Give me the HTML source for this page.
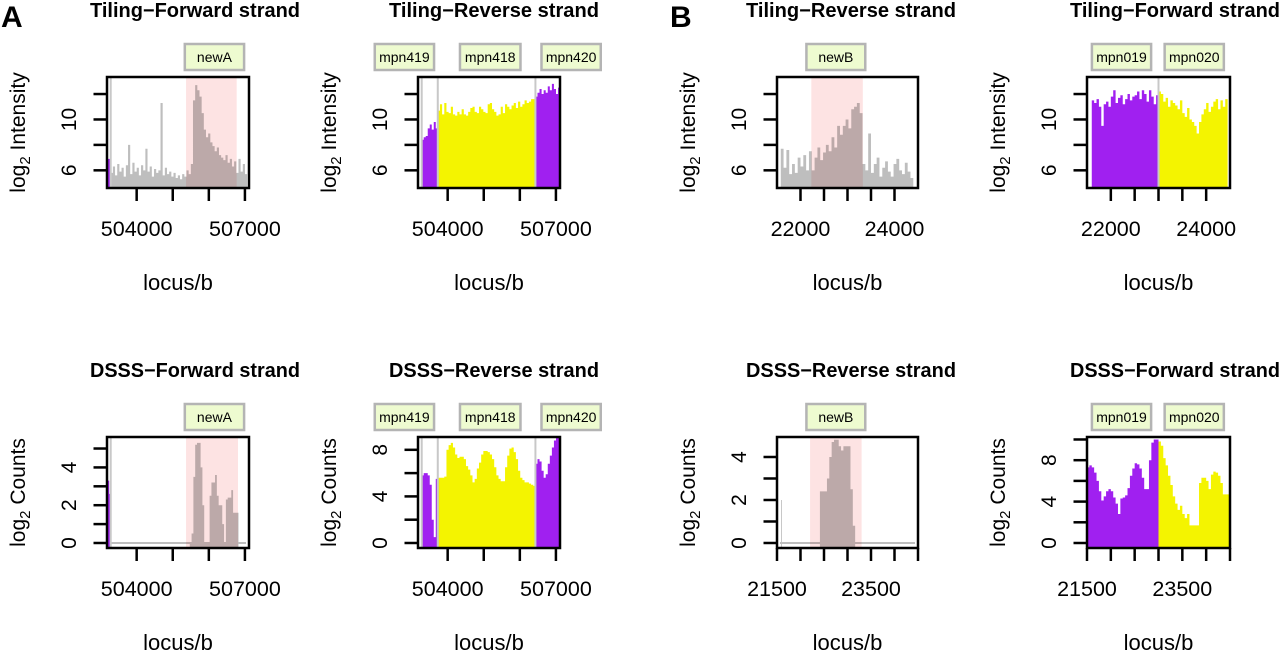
<!DOCTYPE html>
<html><head><meta charset="utf-8">
<style>
html,body{margin:0;padding:0;background:#fff;}
svg{display:block;font-family:"Liberation Sans",Arial,sans-serif;}
</style></head>
<body>
<svg id="fig" width="1280" height="654" viewBox="0 0 1280 654" xmlns="http://www.w3.org/2000/svg">
<text x="1" y="27" font-size="30" font-weight="bold">A</text>
<text x="670" y="27" font-size="30" font-weight="bold">B</text>
</svg>
<script>
// ---------- data arrays ----------
const a1PurpleValues = [6.9];
const a1GrayValues = [5.8,6.3,5.6,6.5,5.9,6.2,5.5,6.4,8.0,5.7,6.6,5.9,6.2,5.6,6.4,6.0,7.7,5.9,6.3,5.5,6.1,5.8,6.0,11.3,5.6,6.2,5.7,5.9,5.5,5.8,5.4,5.6,5.3,5.7,5.5,6.0,5.7,6.5,11.5,12.7,12.3,11.8,10.5,9.2,8.6,8.9,8.2,7.9,7.5,7.8,7.2,7.0,6.8,7.2,6.6,6.9,6.3,6.7,5.8,6.9,5.9,6.5,5.7];
const a2Purple1Values = [8.4,8.6,8.7,9.3,9.6,9.2,9.8,9.3];
const a2YellowValues = [10.7,11.2,10.4,11.3,10.6,10.5,11.0,10.4,10.3,10.6,10.4,10.8,10.4,10.3,10.6,10.9,11.0,10.6,10.5,11.0,10.8,10.6,10.5,11.2,11.3,10.8,10.6,10.3,10.4,11.0,10.5,11.2,11.0,10.8,11.1,11.3,10.9,11.4,11.0,11.2,11.5,11.3,11.4,11.6,11.6];
const a2Purple2Values = [11.8,12.1,12.4,12.0,12.3,12.1,12.6,12.3,12.8,12.4,12.0,12.5];
const a3PurpleValues = [3.3,2.6];
const a3GrayValues = [0,0.5,3.5,5.2,5.3,5.3,4.0,2.0,0,0,0,2.5,3.2,3.2,3.6,2.5,2.0,2.0,1.0,0,2.3,2.4,2.4,2.8,1.6,1.6,1.6];
const a4Purple1Values = [5.8,6.0,6.0,5.8,5.0,2.0,0.5,5.5];
const a4YellowValues = [5.6,5.6,5.6,5.7,8.0,8.4,8.6,8.2,7.6,7.3,7.4,7.4,7.2,6.6,6.3,5.8,5.2,5.5,6.4,6.9,7.6,7.9,7.9,7.8,7.6,7.2,6.5,5.8,5.5,5.3,5.3,6.5,7.5,8.1,8.2,7.8,7.2,6.2,5.6,5.4,5.2,5.2,5.1,5.0,4.9];
const a4Purple2Values = [6.8,7.2,7.0,6.2,5.6,5.9,6.8,7.5,8.2,8.8,9.1,9.2];
const b1GrayValues = [7.7,6.2,7.6,5.7,6.5,5.8,7.0,6.3,7.2,6.0,7.5,6.0,7.0,7.8,6.8,7.4,8.0,7.5,8.6,7.8,9.5,8.8,9.5,10.0,9.3,10.8,11.0,11.3,10.5,6.5,6.0,8.9,5.8,6.5,7.0,5.5,6.2,6.7,5.9,5.5,6.5,6.9,6.0,5.7,6.6,5.9,5.4];
const b2PurpleValues = [11.5,11.3,11.6,11.0,9.5,11.2,11.4,11.0,11.8,12.3,11.3,11.7,11.9,11.2,11.6,12.0,11.5,11.8,11.9,12.2,11.6,12.3,12.0,11.4,12.3,11.8,11.2,11.9];
const b2YellowValues = [12.2,12.0,11.4,11.7,11.0,11.5,11.3,11.1,10.8,11.5,10.5,10.2,10.9,10.0,9.8,9.5,8.9,9.8,10.4,10.8,11.3,10.6,11.0,11.4,11.6,10.8,11.5,11.0,11.6];
const b3SpikeValues = [2.0];
const b3GrayValues = [2.4,2.4,2.4,3.0,4.0,4.7,4.8,4.8,4.5,4.3,4.5,4.5,4.5,2.5,0.8];
const b4PurpleValues = [7.3,7.5,7.3,6.8,6.0,5.0,4.1,4.5,5.0,5.2,5.0,4.4,3.8,2.8,4.3,4.4,4.6,5.3,6.5,7.2,7.7,7.6,7.2,6.3,5.2,5.2,8.0,9.7,10.0,10.0];
const b4YellowValues = [9.8,9.4,8.2,7.5,6.5,5.6,4.5,3.8,3.2,3.6,2.8,2.4,2.8,1.7,1.7,1.7,1.7,5.8,6.3,6.3,6.0,5.2,6.6,6.9,6.8,6.5,5.8,4.7,4.7,4.7];
const aXTicks = [504000,505000,506000,507000];
const aXTickLabels = ["504000","507000"];
const bXTicksTop = [22000,22500,23000,23500,24000];
const bXTickLabelsTop = ["22000","24000"];
const bXTicksBottom = [21500,22000,22500,23000,23500,24000,24500];
const bXTickLabelsBottom = ["21500","23500"];
const intensityTicks = [6,8,10,12];
const intensityTickLabels = ["6","10"];
const a3YTicks = [0,1,2,3,4,5]; const a3YTickLabels = ["0","2","4"];
const a4YTicks = [0,2,4,6,8]; const a4YTickLabels = ["0","4","8"];
const b3YTicks = [0,1,2,3,4]; const b3YTickLabels = ["0","2","4"];
const b4YTicks = [0,2,4,6,8,10]; const b4YTickLabels = ["0","4","8"];

const PURPLE="#a020f0", YELLOW="#f4f400", GRAY="#bebebe";

const panels = [
 {id:"a-tiling-forward", title:"Tiling\u2212Forward strand", tx:90, L:107,R:249,T:77,B:188, xmin:503178,xmax:507113, ymin:4.61,ymax:13.34,
  xt:aXTicks, xl:aXTickLabels, yt:intensityTicks, yl:intensityTickLabels, ytitle:"Intensity",
  genes:[["newA",505334,506977]], shade:[505368,506771], vlines:[503281],
  series:[[PURPLE,503178,103,a1PurpleValues],[GRAY,503281,60,a1GrayValues]]},
 {id:"a-tiling-reverse", title:"Tiling\u2212Reverse strand", tx:389, L:418,R:560,T:77,B:188, xmin:503178,xmax:507113, ymin:4.61,ymax:13.34,
  xt:aXTicks, xl:aXTickLabels, yt:intensityTicks, yl:intensityTickLabels, ytitle:"Intensity",
  genes:[["mpn419",501980,503623],["mpn418",504341,506018],["mpn420",506600,508242]], vlines:[503281,503726,506432],
  series:[[PURPLE,503281,55.6,a2Purple1Values],[YELLOW,503726,60.13,a2YellowValues],[PURPLE,506432,57,a2Purple2Values]]},
 {id:"b-tiling-reverse", title:"Tiling\u2212Reverse strand", tx:746, L:777,R:918,T:77,B:188, xmin:21500,xmax:24500, ymin:4.61,ymax:13.34,
  xt:bXTicksTop, xl:bXTickLabelsTop, yt:intensityTicks, yl:intensityTickLabels, ytitle:"Intensity",
  genes:[["newB",22126,23378]], shade:[22230,23326], vlines:[],
  series:[[GRAY,21580,60,b1GrayValues]]},
 {id:"b-tiling-forward", title:"Tiling\u2212Forward strand", tx:1070, L:1087,R:1230,T:77,B:188, xmin:21500,xmax:24500, ymin:4.61,ymax:13.34,
  xt:bXTicksTop, xl:bXTickLabelsTop, yt:intensityTicks, yl:intensityTickLabels, ytitle:"Intensity",
  genes:[["mpn019",21603,22845],["mpn020",23129,24371]], vlines:[23000],
  series:[[PURPLE,21600,50,b2PurpleValues],[YELLOW,23000,50,b2YellowValues]]},
 {id:"a-dsss-forward", title:"DSSS\u2212Forward strand", tx:90, L:107,R:249,T:437,B:548, xmin:503178,xmax:507113, ymin:-0.265,ymax:5.61,
  xt:aXTicks, xl:aXTickLabels, yt:a3YTicks, yl:a3YTickLabels, ytitle:"Counts", base0:true,
  genes:[["newA",505334,506977]], shade:[505368,506808], vlines:[503281],
  series:[[PURPLE,503178,60,a3PurpleValues],[GRAY,505472,50,a3GrayValues]]},
 {id:"a-dsss-reverse", title:"DSSS\u2212Reverse strand", tx:389, L:418,R:560,T:437,B:548, xmin:503178,xmax:507113, ymin:-0.43,ymax:9.1,
  xt:aXTicks, xl:aXTickLabels, yt:a4YTicks, yl:a4YTickLabels, ytitle:"Counts",
  genes:[["mpn419",501980,503623],["mpn418",504341,506018],["mpn420",506600,508242]], vlines:[503281,503726,506432],
  series:[[PURPLE,503281,55.6,a4Purple1Values],[YELLOW,503726,60.13,a4YellowValues],[PURPLE,506432,57,a4Purple2Values]]},
 {id:"b-dsss-reverse", title:"DSSS\u2212Reverse strand", tx:746, L:777,R:918,T:437,B:548, xmin:21500,xmax:24500, ymin:-0.233,ymax:4.93,
  xt:bXTicksBottom, xl:bXTickLabelsBottom, yt:b3YTicks, yl:b3YTickLabels, ytitle:"Counts", base0:true,
  genes:[["newB",22126,23378]], shade:[22204,23300], vlines:[],
  series:[[GRAY,21585,18,b3SpikeValues],[GRAY,22413,50,b3GrayValues]]},
 {id:"b-dsss-forward", title:"DSSS\u2212Forward strand", tx:1070, L:1087,R:1230,T:437,B:548, xmin:21500,xmax:24500, ymin:-0.483,ymax:10.24,
  xt:bXTicksBottom, xl:bXTickLabelsBottom, yt:b4YTicks, yl:b4YTickLabels, ytitle:"Counts",
  genes:[["mpn019",21603,22845],["mpn020",23129,24371]], vlines:[],
  series:[[PURPLE,21500,50,b4PurpleValues],[YELLOW,23000,50,b4YellowValues]]}
];

const NS="http://www.w3.org/2000/svg";
const svg=document.getElementById("fig");
function mk(tag,attrs,parent){const e=document.createElementNS(NS,tag);for(const k in attrs)e.setAttribute(k,attrs[k]);(parent||svg).appendChild(e);return e;}

panels.forEach((p,pi)=>{
  const sx=x=>p.L+(x-p.xmin)/(p.xmax-p.xmin)*(p.R-p.L);
  const sy=y=>p.B-(y-p.ymin)/(p.ymax-p.ymin)*(p.B-p.T);
  const g=mk("g",{});
  
  
  const clipId="clip"+pi;
  const cp=mk("clipPath",{id:clipId},g); mk("rect",{x:p.L,y:p.T,width:p.R-p.L,height:p.B-p.T},cp);
  const plot=mk("g",{"clip-path":"url(#"+clipId+")"},g);
  
  
  if(p.base0){
    const bl=mk("line",{x1:sx(p.xmin)+3,x2:p.R-3,y1:sy(0),y2:sy(0),stroke:GRAY,"stroke-width":2},plot);
    
    
  }
  p.series.forEach((s,si)=>{
    const [col,x0,step,vals]=s;
    let d="M"+sx(x0)+","+(p.B+2);
    vals.forEach((v,i)=>{const xa=sx(x0+i*step), xb=sx(x0+(i+1)*step), y=sy(v); d+=" L"+xa+","+y+" L"+xb+","+y;});
    d+=" L"+sx(x0+vals.length*step)+","+(p.B+2)+" Z";
    const path=mk("path",{d:d,fill:col,stroke:"none"},plot);
    
    
  });
  if(p.shade){
    const r2=mk("rect",{x:sx(p.shade[0]),y:p.T,width:sx(p.shade[1])-sx(p.shade[0]),height:p.B-p.T,fill:"#fde3e3",style:"mix-blend-mode:multiply"},plot);
    
    
  }
  p.vlines.forEach(v=>{
    const l=mk("line",{x1:sx(v),x2:sx(v),y1:p.T,y2:p.B,stroke:"#c8c8c8","stroke-width":2},plot);
    
    
  });
  const box=mk("rect",{x:p.L,y:p.T,width:p.R-p.L,height:p.B-p.T,fill:"none",stroke:"#000","stroke-width":2.5},g);
  
  
  p.genes.forEach(gn=>{
    const gx0=sx(gn[1]), gx1=sx(gn[2]);
    const gg=mk("g",{},g);
    
    
    mk("rect",{x:gx0,y:p.T-33,width:gx1-gx0,height:26,fill:"#eefbd0",stroke:"#b4b4b4","stroke-width":2.5},gg);
    const t=mk("text",{x:(gx0+gx1)/2,y:p.T-15,"text-anchor":"middle","font-size":14},gg);
    t.textContent=gn[0];
  });
  const tt=mk("text",{x:p.tx,y:(p.T<200?17:377),"font-size":20,"font-weight":"bold",textLength:210,lengthAdjust:"spacingAndGlyphs"},g);
  tt.textContent=p.title;
  
  
  p.xt.forEach(v=>{
    const tk=mk("line",{x1:sx(v),x2:sx(v),y1:p.B,y2:p.B+13,stroke:"#000","stroke-width":2.5},g);
    
    
  });
  p.xl.forEach(lbl=>{
    const t=mk("text",{x:sx(+lbl),y:p.B+48,"text-anchor":"middle","font-size":21.5},g);
    t.textContent=lbl;
    
    
  });
  const xt=mk("text",{x:(p.L+p.R)/2,y:p.B+102,"text-anchor":"middle","font-size":22},g);
  xt.textContent="locus/b";
  
  
  p.yt.forEach(v=>{
    const tk=mk("line",{x1:p.L-13.5,x2:p.L,y1:sy(v),y2:sy(v),stroke:"#000","stroke-width":2.5},g);
    
    
  });
  p.yl.forEach(lbl=>{
    const x=p.L-31, y=sy(+lbl);
    const t=mk("text",{x:x,y:y,"text-anchor":"middle","font-size":21,transform:"rotate(-90 "+x+" "+y+")"},g);
    t.textContent=lbl;
    
    
  });
  const yx=p.L-82, yy=(p.T+p.B)/2;
  const yt=mk("text",{x:yx,y:yy,"text-anchor":"middle","font-size":21,transform:"rotate(-90 "+yx+" "+yy+")"},g);
  const s1=mk("tspan",{},yt); s1.textContent="log";
  const s2=mk("tspan",{"font-size":15,dy:5},yt); s2.textContent="2";
  const s3=mk("tspan",{dy:-5},yt); s3.textContent=" "+p.ytitle;
  
  
});
</script>
</body></html>
